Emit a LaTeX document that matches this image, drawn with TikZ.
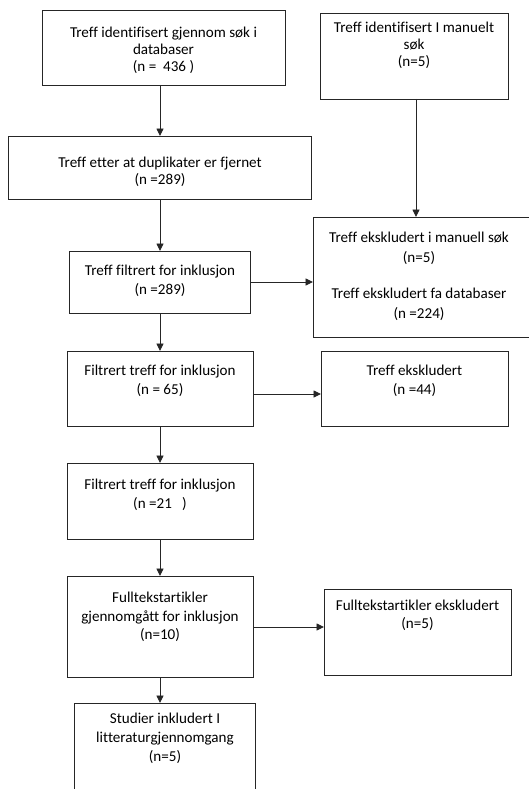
\documentclass[tikz,border=0pt]{standalone}
\usepackage{fontspec}
\setmainfont{Carlito}[Ligatures={NoCommon}]
\usetikzlibrary{arrows.meta}
\begin{document}
\begin{tikzpicture}[x=1pt,y=-1pt,
  box/.style={draw=black!85, line width=0.9pt, rectangle, inner sep=0pt, outer sep=0pt, anchor=north west},
  txt/.style={anchor=north, align=center, inner sep=0pt, font=\fontsize{15.1}{19}\selectfont},
  arr/.style={draw=black!85, line width=0.9pt, -{Triangle[length=7.5pt,width=7pt]}}]
\clip (0,0) rectangle (529,789);
\useasboundingbox (0,0) rectangle (529,789);
% boxes
\node[box, minimum width=243pt, minimum height=75pt] (b1) at (42,10) {};
\node[box, minimum width=188pt, minimum height=86pt] (b2) at (320,13) {};
\node[box, minimum width=303pt, minimum height=63pt] (b3) at (8,136) {};
\node[box, minimum width=181pt, minimum height=62pt] (b4) at (69,251) {};
\node[box, minimum width=220pt, minimum height=120pt] (b5) at (313,217) {};
\node[box, minimum width=186pt, minimum height=75pt] (b6) at (67,351) {};
\node[box, minimum width=187pt, minimum height=75pt] (b7) at (321,351) {};
\node[box, minimum width=186pt, minimum height=76pt] (b8) at (67,463) {};
\node[box, minimum width=186pt, minimum height=101pt] (b9) at (67,576) {};
\node[box, minimum width=187pt, minimum height=86pt] (b10) at (324,589) {};
\node[box, minimum width=181pt, minimum height=100pt] (b11) at (74,703) {};
% texts
\node[txt, font=\fontsize{15.1}{16.7}\selectfont] (t1) at (163.5,27) {Treff identifisert gjennom søk i\\databaser\\(n =~~436~)};
\node[txt, font=\fontsize{15.1}{16.7}\selectfont] (t2) at (414,22) {Treff identifisert I manuelt\\søk\\(n=5)};
\node[txt, font=\fontsize{15.1}{17}\selectfont] (t3) at (160,157) {Treff etter at duplikater er fjernet\\(n =289)};
\node[txt] (t4) at (160,265) {Treff filtrert for inklusjon\\(n =289)};
\node[txt, font=\fontsize{15.1}{20}\selectfont] (t5) at (419,232) {Treff ekskludert i manuell søk\\(n=5)\\[16pt]Treff ekskludert fa databaser\\(n =224)};
\node[txt] (t6) at (160,365) {Filtrert treff for inklusjon\\(n = 65)};
\node[txt] (t7) at (414.5,365) {Treff ekskludert\\(n =44)};
\node[txt] (t8) at (160,479) {Filtrert treff for inklusjon\\(n =21~~~)};
\node[txt, font=\fontsize{15.1}{18.5}\selectfont] (t9) at (160,592) {Fulltekstartikler\\gjennomgått for inklusjon\\(n=10)};
\node[txt, font=\fontsize{15.1}{17.5}\selectfont] (t10) at (417.5,600) {Fulltekstartikler ekskludert\\(n=5)};
\node[txt] (t11) at (165,713) {Studier inkludert I\\litteraturgjennomgang\\(n=5)};
% guide coordinates
\coordinate (cx) at (160,0);
\coordinate (mx) at (416,0);
\coordinate (y4) at (0,282);
\coordinate (y6) at (0,394);
\coordinate (y9) at (0,627);
% connectors
\draw[arr] (b1.south -| cx) -- (b3.north -| cx);
\draw[arr] (b2.south -| mx) -- (b5.north -| mx);
\draw[arr] (b3.south -| cx) -- (b4.north -| cx);
\draw[arr] (b4.east |- y4) -- (b5.west |- y4);
\draw[arr] (b4.south -| cx) -- (b6.north -| cx);
\draw[arr] (b6.east |- y6) -- (b7.west |- y6);
\draw[arr] (b6.south -| cx) -- (b8.north -| cx);
\draw[arr] (b8.south -| cx) -- (b9.north -| cx);
\draw[arr] (b9.east |- y9) -- (b10.west |- y9);
\draw[arr] (b9.south -| cx) -- (b11.north -| cx);
\end{tikzpicture}
\end{document}
